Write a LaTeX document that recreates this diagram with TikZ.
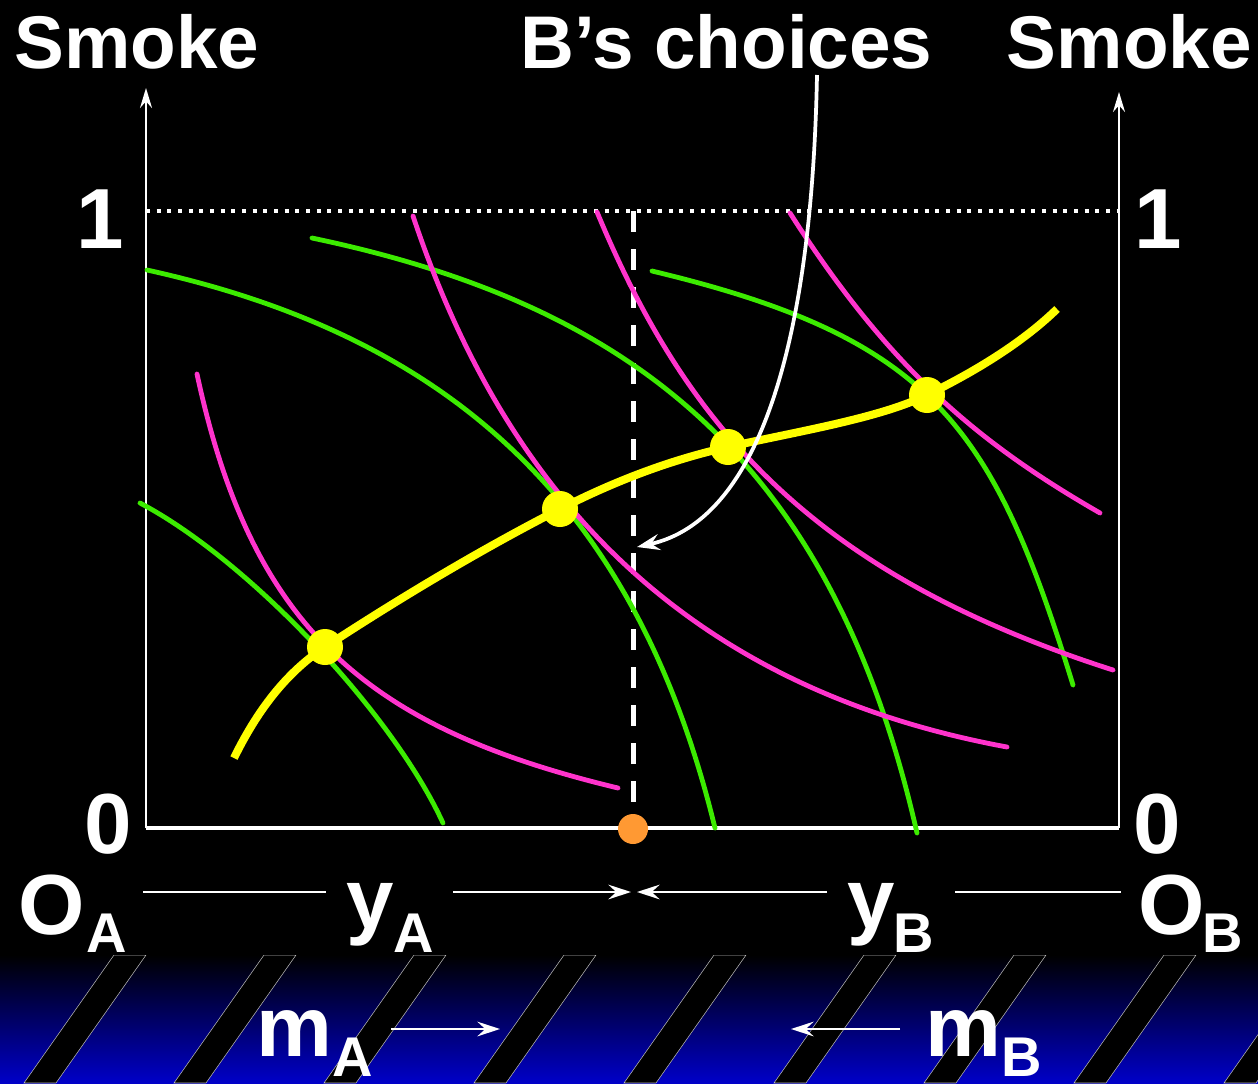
\documentclass[tikz,border=0pt]{standalone}
\usepackage{fontspec}
\setmainfont{Liberation Sans}
\usetikzlibrary{arrows.meta,shapes.geometric}
\definecolor{igreen}{RGB}{60,235,0}
\definecolor{imag}{RGB}{255,51,204}
\definecolor{iyel}{RGB}{255,255,0}
\definecolor{iorange}{RGB}{255,153,51}
\definecolor{bandblue}{RGB}{0,0,200}
\begin{document}
\begin{tikzpicture}[x=0.75pt,y=-0.75pt,
  bigtxt/.style={font=\fontsize{64}{70}\selectfont\bfseries, text=white, inner sep=0},
  titletxt/.style={font=\fontsize{56}{60}\selectfont\bfseries, text=white, inner sep=0},
  subtxt/.style={font=\fontsize{42}{46}\selectfont\bfseries, text=white, inner sep=0, text depth=0pt},
  axisline/.style={white, line width=1.6pt},
  axistip/.style={-{Stealth[length=15pt,width=9pt,inset=5pt]}},
  rowline/.style={white, line width=1.6pt},
  rowtip/.style={-{Stealth[length=17pt,width=11pt,inset=6pt]}},
  icA/.style={igreen, line width=3.6pt, line cap=round},
  icB/.style={imag, line width=3.6pt, line cap=round},
  ccurve/.style={iyel, line width=6pt},
  ydot/.style={circle, fill=iyel, minimum size=27pt, inner sep=0},
]
% background
\fill[black] (0,0) rectangle (1258,1083);
\shade[top color=black, bottom color=bandblue] (0,955) rectangle (1258,1083);
\begin{scope}
  \clip (0,955) rectangle (1258,1083);
  \foreach \k in {-1,...,8} {
    \filldraw[fill=black, draw=gray!55, line width=0.4pt]
      ({114+150*\k},955) -- ({146+150*\k},955) -- ({56+150*\k},1083) -- ({24+150*\k},1083) -- cycle;
  }
\end{scope}

% axes
\coordinate (a0) at (146,828);
\coordinate (atop) at (146,88);
\coordinate (b0) at (1119,828);
\coordinate (btop) at (1119,92);
\coordinate (a1) at (146,211);
\coordinate (b1) at (1119,211);
\coordinate (d1) at (633,211);
\coordinate (d0) at (633,815);
\draw[white, line width=3pt, dash pattern=on 3pt off 5pt] (a1) -- (b1);
\draw[axisline, axistip] (a0) -- (atop);
\draw[axisline, axistip] (b0) -- (btop);
\draw[white, line width=2.4pt] (a0) -- (b0);
\draw[white, line width=3.75pt, dash pattern=on 15.75pt off 12.75pt] (d1) -- (d0);

% indifference curves of A (green)
\draw[icA] (140,503) .. controls (250,561) and (393,714) .. (443,823);
\draw[icA] (147,270) .. controls (447,336) and (635,500) .. (715,828);
\draw[icA] (312,238) .. controls (632,305) and (832,459) .. (917,833);
\draw[icA] (652,271) .. controls (932,338) and (993,425) .. (1073,685);
% indifference curves of B (magenta)
\draw[icB] (197,374) .. controls (252,630) and (368,728) .. (618,788);
\draw[icB] (413,216) .. controls (503,486) and (677,686) .. (1007,747);
\draw[icB] (597,212) .. controls (687,428) and (813,574) .. (1113,670);
\draw[icB] (790,213) .. controls (890,370) and (980,444) .. (1100,513);

% contract curve
\coordinate (c0) at (234,758);
\coordinate (p1) at (325,647);
\coordinate (p2) at (560,509);
\coordinate (p3) at (728,447);
\coordinate (p4) at (927,395);
\coordinate (c5) at (1057,309);
\draw[ccurve] (c0) .. controls (260,705) and (290,670) .. (p1)
  .. controls (400,598) and (480,550) .. (p2)
  .. controls (615,481) and (670,460) .. (p3)
  .. controls (800,431) and (880,418) .. (p4)
  .. controls (970,374) and (1020,345) .. (c5);
\node[ydot] (e1) at (p1) {};
\node[ydot] (e2) at (p2) {};
\node[ydot] (e3) at (p3) {};
\node[ydot] (e4) at (p4) {};

% orange dot
\node[circle, fill=iorange, minimum size=22.5pt, inner sep=0] (odot) at (633,829) {};

% B's choices arrow
\coordinate (cs) at (817,75);
\coordinate (ce) at (637,547);
\draw[white, line width=2.8pt, -{Stealth[length=17pt,width=12pt,inset=6pt]}] (cs) .. controls (812,340) and (760,520) .. (ce);

% labels
\node[titletxt, anchor=base west] (s1) at (14,68) {Smoke};
\node[titletxt, anchor=base west] (bc) at (520,68) {B’s choices};
\node[titletxt, anchor=base east] (s2) at (1252,68) {Smoke};
\node[bigtxt, anchor=base] (one1) at (100,248) {1};
\node[bigtxt, anchor=base] (one2) at (1158,248) {1};
\node[bigtxt, anchor=base] (zero1) at (108,853) {0};
\node[bigtxt, anchor=base] (zero2) at (1157,853) {0};
\node[bigtxt, anchor=base west] (OAl) at (18,934) {O};
\node[subtxt, anchor=base west] (OAs) at (86,952) {A};
\node[bigtxt, anchor=base west] (yAl) at (346,928) {y};
\node[subtxt, anchor=base west] (yAs) at (393,952) {A};
\node[bigtxt, anchor=base west] (yBl) at (847,928) {y};
\node[subtxt, anchor=base west] (yBs) at (893,952) {B};
\node[bigtxt, anchor=base west] (OBl) at (1138,934) {O};
\node[subtxt, anchor=base west] (OBs) at (1202,952) {B};
\node[bigtxt, anchor=base west] (mAl) at (256,1056) {m};
\node[subtxt, anchor=base west] (mAs) at (332,1076) {A};
\node[bigtxt, anchor=base west] (mBl) at (925,1056) {m};
\node[subtxt, anchor=base west] (mBs) at (1001,1076) {B};

% row arrows
\coordinate (r1) at (143,892);
\coordinate (r2) at (326,892);
\coordinate (r3) at (453,892);
\coordinate (r4) at (631,892);
\coordinate (r5) at (637,892);
\coordinate (r6) at (827,892);
\coordinate (r7) at (955,892);
\coordinate (r8) at (1121,892);
\draw[rowline] (r1) -- (r2);
\draw[rowline, rowtip] (r3) -- (r4);
\draw[rowline, rowtip] (r6) -- (r5);
\draw[rowline] (r7) -- (r8);
\coordinate (m1) at (391,1029);
\coordinate (m2) at (500,1029);
\coordinate (m3) at (900,1029);
\coordinate (m4) at (791,1029);
\draw[rowline, rowtip] (m1) -- (m2);
\draw[rowline, rowtip] (m3) -- (m4);
\end{tikzpicture}
\end{document}
